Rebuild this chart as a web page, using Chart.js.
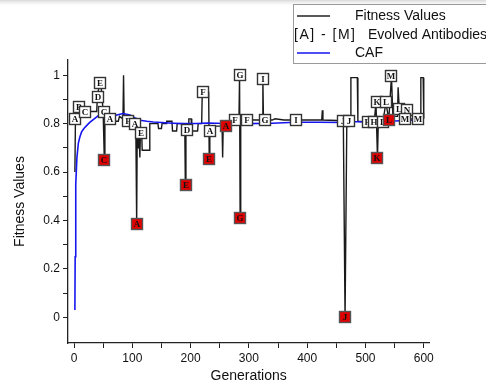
<!DOCTYPE html>
<html><head><meta charset="utf-8">
<script src="https://cdn.jsdelivr.net/npm/chart.js@4.4.1/dist/chart.umd.min.js"></script>
<style>html,body{margin:0;padding:0;background:#fff;}#wrap{width:486px;height:388px;position:relative;}</style>
</head><body><div id="wrap"><canvas id="c"></canvas></div>
<script>
// Fitness Values (black line)
const fitX = [1.5,2.5,6,7,16,17,39,40,44,46,50,51,52,53,58,62,68,70,76,78,84,85,86,92,104,106,107.5,108.5,110,111,113,114,116,117,129,130,144,145,150,151,158,159,168,169,176,177,190,191,192,196,197,201,202,212,213,219,220,231,232,233,238,254,255,256,261,268,276,283,284,285,286,296,310,323,324,325,340,345,360,381,425,426,427,462,465,468,474,475,486,487,505,515,518,520.6,522,530,535,540,544.6,547,555,556,558,565,572,575,594,595,599,600];
const fitY = [0.60,0.82,0.82,0.875,0.875,0.85,0.85,0.91,0.97,0.97,0.85,0.85,0.65,0.84,0.83,0.82,0.82,0.81,0.81,0.83,0.82,1.0,0.82,0.81,0.80,0.80,0.384,0.80,0.70,0.80,0.66,0.77,0.77,0.69,0.69,0.80,0.80,0.78,0.78,0.80,0.80,0.81,0.81,0.77,0.77,0.80,0.80,0.548,0.80,0.80,0.82,0.82,0.77,0.77,0.80,0.80,0.93,0.93,0.652,0.77,0.79,0.79,0.66,0.80,0.79,0.81,0.817,0.82,1.0,0.409,0.82,0.817,0.815,0.815,0.986,0.815,0.815,0.82,0.815,0.815,0.815,0.855,0.815,0.812,0.0,0.81,0.81,0.99,0.99,0.81,0.806,0.806,0.888,0.657,0.806,0.806,0.888,0.817,0.996,0.83,0.83,0.95,0.86,0.82,0.857,0.82,0.82,0.99,0.99,0.82];
// CAF (blue line)
const cafX = [1.5,2,3,5,7.5,10,13,17,22,27,33,39,45,50,56,62,72,84,96,104,113,125,136,150,170,190,210,230,260,300,340,380,420,460,480,520,560,600];
const cafY = [0.03,0.25,0.55,0.66,0.72,0.745,0.766,0.78,0.793,0.805,0.817,0.828,0.840,0.844,0.838,0.835,0.835,0.842,0.836,0.825,0.814,0.810,0.807,0.805,0.802,0.800,0.801,0.803,0.801,0.800,0.802,0.806,0.806,0.805,0.808,0.808,0.812,0.817];
// Evolved antibody labels
const labelText = ['A','B','C','D','E','C','A','F','A','E','D','F','A','F','G','F','I','G','I','J','J','H','H','L','K','L','M','L','N','M','M','C','A','E','E','A','G','J','K','L'];
const labelX = [2,8.5,19.7,40.6,45,51,62,92,105,115,194,222,233.5,276,284,296,324.5,327.5,381,462,472,504.6,514.8,530,519,535,544.6,557,572,567.5,590,52,107.5,191.5,232,261,285,465,520.6,540];
const labelY = [0.82,0.87,0.85,0.91,0.97,0.85,0.82,0.81,0.80,0.76,0.775,0.93,0.769,0.817,0.999,0.817,0.986,0.815,0.815,0.812,0.812,0.806,0.806,0.806,0.888,0.888,0.996,0.86,0.857,0.82,0.82,0.65,0.384,0.548,0.652,0.79,0.409,0.0,0.657,0.817];
const labelRed = [0,0,0,0,0,0,0,0,0,0,0,0,0,0,0,0,0,0,0,0,0,0,0,0,0,0,0,0,0,0,0,1,1,1,1,1,1,1,1,1];
// ticks
const xTickValues = [0,50,100,150,200,250,300,350,400,450,500,550,600];
const xTickLabels = ['0','','100','','200','','300','','400','','500','','600'];
const yTickValues = [0,0.1,0.2,0.3,0.4,0.5,0.6,0.7,0.8,0.9,1.0];
const yTickLabels = ['0','','0.2','','0.4','','0.6','','0.8','','1'];

const FONT = '"Liberation Sans", Arial, sans-serif';

const topShade = {
  id:'topShade',
  beforeDraw(chart){
    const ctx = chart.ctx;
    const g = ctx.createLinearGradient(0,0,0,7);
    g.addColorStop(0,'rgba(200,200,200,0.7)');
    g.addColorStop(1,'rgba(255,255,255,0)');
    ctx.save(); ctx.fillStyle = g; ctx.fillRect(0,0,chart.width,7); ctx.restore();
  }
};

const boxLabels = {
  id:'boxLabels',
  afterDatasetsDraw(chart){
    const ctx = chart.ctx, xs = chart.scales.x, ys = chart.scales.y;
    ctx.save();
    for (let i=0;i<labelText.length;i++){
      const px = Math.round(xs.getPixelForValue(labelX[i]));
      const py = Math.round(ys.getPixelForValue(labelY[i]));
      const w = 11, h = 11;
      ctx.fillStyle = labelRed[i] ? '#e00000' : '#ffffff';
      ctx.fillRect(px-w/2, py-h/2, w, h);
      ctx.strokeStyle = labelRed[i] ? '#555' : '#333';
      ctx.lineWidth = 1.4;
      ctx.strokeRect(px-w/2, py-h/2, w, h);
      ctx.fillStyle = '#111';
      ctx.font = 'bold 9px "Liberation Serif", serif';
      ctx.textAlign = 'center'; ctx.textBaseline = 'middle';
      ctx.fillText(labelText[i], px, py+0.5);
    }
    ctx.restore();
  }
};

const customLegend = {
  id:'customLegend',
  afterDraw(chart){
    const ctx = chart.ctx;
    ctx.save();
    ctx.strokeStyle = '#9a9a9a'; ctx.lineWidth = 1;
    ctx.strokeRect(293.5, 4.5, 210, 59);
    ctx.lineWidth = 1.5;
    ctx.strokeStyle = '#222';
    ctx.beginPath(); ctx.moveTo(297,16); ctx.lineTo(330,16); ctx.stroke();
    ctx.strokeStyle = '#1515f0';
    ctx.beginPath(); ctx.moveTo(297,53); ctx.lineTo(330,53); ctx.stroke();
    ctx.fillStyle = '#111';
    ctx.font = '14px ' + FONT;
    ctx.textBaseline = 'middle'; ctx.textAlign = 'left';
    ctx.fillText('Fitness Values', 355, 16);
    ctx.fillText('Evolved Antibodies', 368, 35);
    ctx.fillText('CAF', 355, 53);
    if ('letterSpacing' in ctx) ctx.letterSpacing = '1.5px';
    ctx.fillText('[A] - [M]', 294, 35);
    ctx.restore();
  }
};

const toXY = (xs, ys) => xs.map((x,i)=>({x:x, y:ys[i]}));

new Chart(document.getElementById('c'), {
  type:'line',
  data:{ datasets:[
    { label:'CAF', data:toXY(cafX,cafY), borderColor:'#1515f0', borderWidth:1.6, pointRadius:0, tension:0, order:0, fill:false },
    { label:'Fitness Values', data:toXY(fitX,fitY), borderColor:'#1a1a1a', borderWidth:1.4, pointRadius:0, tension:0, order:1, fill:false }
  ]},
  options:{
    responsive:true, maintainAspectRatio:false, animation:false,
    layout:{ padding:{ left:0, top:60, right:56.7, bottom:0 } },
    plugins:{ legend:{display:false}, tooltip:{enabled:false} },
    scales:{
      x:{ type:'linear', min:-10.3, max:609.5,
        afterFit(s){ s.height = 45; },
        afterBuildTicks(s){ s.ticks = xTickValues.map(v=>({value:v})); },
        grid:{ display:true, drawOnChartArea:false, drawTicks:true, tickLength:5, color:'#222', lineWidth:1 },
        border:{ display:true, color:'#222', width:1.3 },
        ticks:{ autoSkip:false, maxRotation:0, padding:3, color:'#111', font:{ family:FONT, size:12 },
          callback:(v,i)=>xTickLabels[i] },
        title:{ display:true, text:'Generations', color:'#111', font:{ family:FONT, size:14 }, padding:{top:0,bottom:3} }
      },
      y:{ type:'linear', min:-0.106, max:1.063,
        afterFit(s){ s.width = 68; },
        afterBuildTicks(s){ s.ticks = yTickValues.map(v=>({value:v})); },
        grid:{ display:true, drawOnChartArea:false, drawTicks:true, tickLength:5, color:'#222', lineWidth:1 },
        border:{ display:true, color:'#222', width:1.3 },
        ticks:{ autoSkip:false, padding:3, color:'#111', font:{ family:FONT, size:12 },
          callback:(v,i)=>yTickLabels[i] },
        title:{ display:true, text:'Fitness Values', color:'#111', font:{ family:FONT, size:14 }, padding:{top:12,bottom:0} }
      }
    }
  },
  plugins:[topShade, boxLabels, customLegend]
});
</script></body></html>
